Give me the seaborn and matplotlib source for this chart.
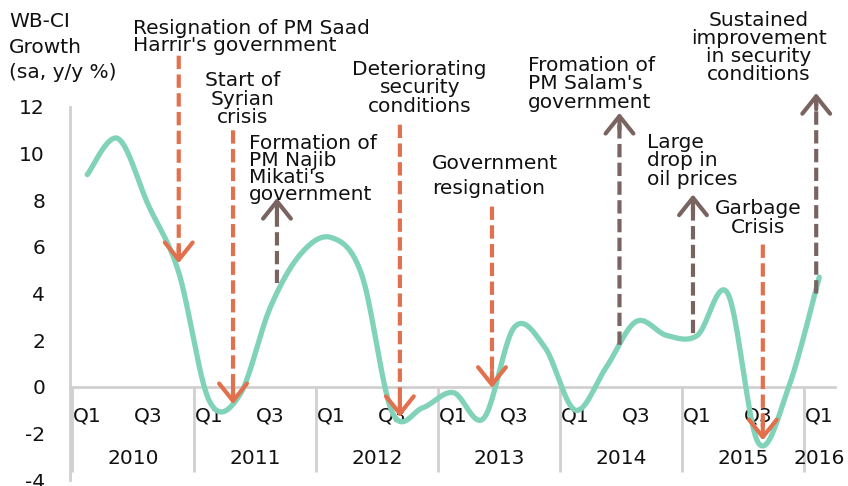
import numpy as np
import pandas as pd
import matplotlib
matplotlib.use("Agg")
import matplotlib.pyplot as plt
import seaborn as sns

# ---------------- data ----------------
years = ["2010", "2011", "2012", "2013", "2014", "2015", "2016"]
quarter_labels = ["Q1", "", "Q3", ""] * 6 + ["Q1"]
growth = [9.1, 10.65, 7.8, 4.9,
          -0.6, -0.35, 3.4, 5.7,
          6.4, 4.8, -1.1, -0.9,
          -0.25, -1.35, 2.55, 1.7,
          -1.0, 0.8, 2.8, 2.2,
          2.2, 4.0, -2.4, 0.0,
          4.7]

event_labels = ["Resignation of PM Saad\nHarrir's government",
                "Start of\nSyrian\ncrisis",
                "Formation of\nPM Najib\nMikati's\ngovernment",
                "Deteriorating\nsecurity\nconditions",
                "Government\nresignation",
                "Fromation of\nPM Salam's\ngovernment",
                "Large\ndrop in\noil prices",
                "Garbage\nCrisis",
                "Sustained\nimprovement\nin security\nconditions"]
event_x = [3.0, 4.78, 6.22, 10.25, 13.27, 17.45, 19.86, 22.15, 23.9]
event_from = [14.2, 11.0, 4.45, 11.24, 7.73, 1.8, 2.3, 6.1, 4.0]
event_to = [5.3, -0.75, 8.1, -1.3, -0.05, 11.75, 8.25, -2.3, 12.6]
event_kind = ["neg", "neg", "pos", "neg", "neg", "pos", "pos", "neg", "pos"]

# ---------------- style ----------------
sns.set_style("white")
plt.rcParams["font.family"] = ["DejaVu Sans"]
FS = 14.5
LINE_C = "#80D2B9"
NEG_C = "#E2704D"
POS_C = "#7A6461"
GRID_C = "#D0D0D0"
TXT_C = "#111111"


def catmull_rom(values, n=40):
    y = np.asarray(values, float)
    x = np.arange(len(y), dtype=float)
    P = np.column_stack([x, y])
    Pp = np.vstack([P[0], P, P[-1]])
    t = np.linspace(0, 1, n, endpoint=False)[:, None]
    segs = []
    for i in range(len(y) - 1):
        p0, p1, p2, p3 = Pp[i], Pp[i + 1], Pp[i + 2], Pp[i + 3]
        c1 = p1 + (p2 - p0) / 6.0
        c2 = p2 - (p3 - p1) / 6.0
        seg = ((1 - t) ** 3) * p1 + 3 * (1 - t) ** 2 * t * c1 + 3 * (1 - t) * t ** 2 * c2 + t ** 3 * p2
        segs.append(seg)
    segs.append(P[-1:])
    return np.vstack(segs)


curve = catmull_rom(growth)
df = pd.DataFrame({"pos": curve[:, 0], "growth": curve[:, 1]})

W, H = 848, 486
fig = plt.figure(figsize=(W / 100, H / 100), dpi=100)
ax = fig.add_axes([70 / W, 6 / H, (834.5 - 70) / W, (480 - 107) / H])

sns.lineplot(data=df, x="pos", y="growth", sort=False, estimator=None,
             color=LINE_C, lw=3.8, ax=ax, zorder=2, solid_capstyle="round")

ax.set_xlim(-0.5 - 2 / 30.5, 24.5)
ax.set_ylim(-4, 12)
ax.set_xlabel("")
ax.set_ylabel("")

for s in ["top", "right"]:
    ax.spines[s].set_visible(False)
ax.spines["left"].set_color(GRID_C)
ax.spines["left"].set_linewidth(2)
ax.spines["bottom"].set_position(("data", 0))
ax.spines["bottom"].set_color(GRID_C)
ax.spines["bottom"].set_linewidth(2)
ax.spines["bottom"].set_zorder(1)

ax.set_yticks(np.arange(-4, 13, 2))
ax.set_yticklabels([str(v) for v in range(-4, 13, 2)])
ax.tick_params(axis="y", length=5, width=1.5, color=GRID_C, pad=13,
               labelsize=FS, labelcolor=TXT_C)

n = len(growth)
ax.set_xticks(np.arange(-0.5, n, 1.0))
ax.set_xticklabels([])
ax.set_xticks(np.arange(n), minor=True)
ax.set_xticklabels(quarter_labels, minor=True)
ax.tick_params(axis="x", which="major", length=31, width=2, color=GRID_C, direction="out")
ax.tick_params(axis="x", which="minor", length=0, pad=14, labelsize=FS, labelcolor=TXT_C)

sec = ax.secondary_xaxis(0.25)
sec.spines["bottom"].set_visible(False)
sec.set_xticks([-0.5, 3.5, 7.5, 11.5, 15.5, 19.5, 23.5])
sec.set_xticklabels([])
sec.set_xticks([1.5, 5.5, 9.5, 13.5, 17.5, 21.5, 24], minor=True)
sec.set_xticklabels(years, minor=True)
sec.tick_params(axis="x", which="major", length=61, width=2, color=GRID_C, direction="out")
sec.tick_params(axis="x", which="minor", length=0, pad=45, labelsize=FS, labelcolor=TXT_C)

# ---------------- annotations ----------------
text_specs = [
    dict(x=1.5, y=15.0, ha="left", ls=0.82),
    dict(x=5.1, y=12.34, ha="center", ls=0.95),
    dict(x=5.3, y=9.34, ha="left", ls=0.85),
    dict(x=10.9, y=12.82, ha="center", ls=0.95),
    dict(x=11.3, y=9.04, ha="left", ls=1.35),
    dict(x=14.45, y=12.99, ha="left", ls=0.95),
    dict(x=18.35, y=9.69, ha="left", ls=0.95),
    dict(x=21.99, y=7.24, ha="center", ls=0.95),
    dict(x=22.02, y=14.57, ha="center", ls=0.93),
]

for lab, x, y0, y1, kind, sp in zip(event_labels, event_x, event_from, event_to, event_kind, text_specs):
    c = NEG_C if kind == "neg" else POS_C
    d = np.sign(y1 - y0)
    ax.annotate("", xy=(x, y1 - d * 0.3), xytext=(x, y0),
                arrowprops=dict(arrowstyle="-", color=c, lw=3, linestyle=(0, (3.2, 1.3)),
                                shrinkA=0, shrinkB=0, capstyle="butt"),
                annotation_clip=False, zorder=3)
    ax.annotate("", xy=(x, y1), xytext=(x, y1 - d * 0.7),
                arrowprops=dict(arrowstyle="->,head_length=1.25,head_width=1.0", color=c, lw=3,
                                shrinkA=0, shrinkB=0, mutation_scale=10),
                annotation_clip=False, zorder=3)
    ax.text(sp["x"], sp["y"], lab, ha=sp["ha"], va="center", fontsize=FS,
            linespacing=sp["ls"], color=TXT_C, clip_on=False, zorder=4,
            multialignment=sp["ha"])

fig.text(9 / W, 1 - 12 / H, "WB-CI\nGrowth\n(sa, y/y %)", ha="left", va="top",
         fontsize=FS, linespacing=1.45, color=TXT_C)

fig.savefig("out.png", dpi=100)
